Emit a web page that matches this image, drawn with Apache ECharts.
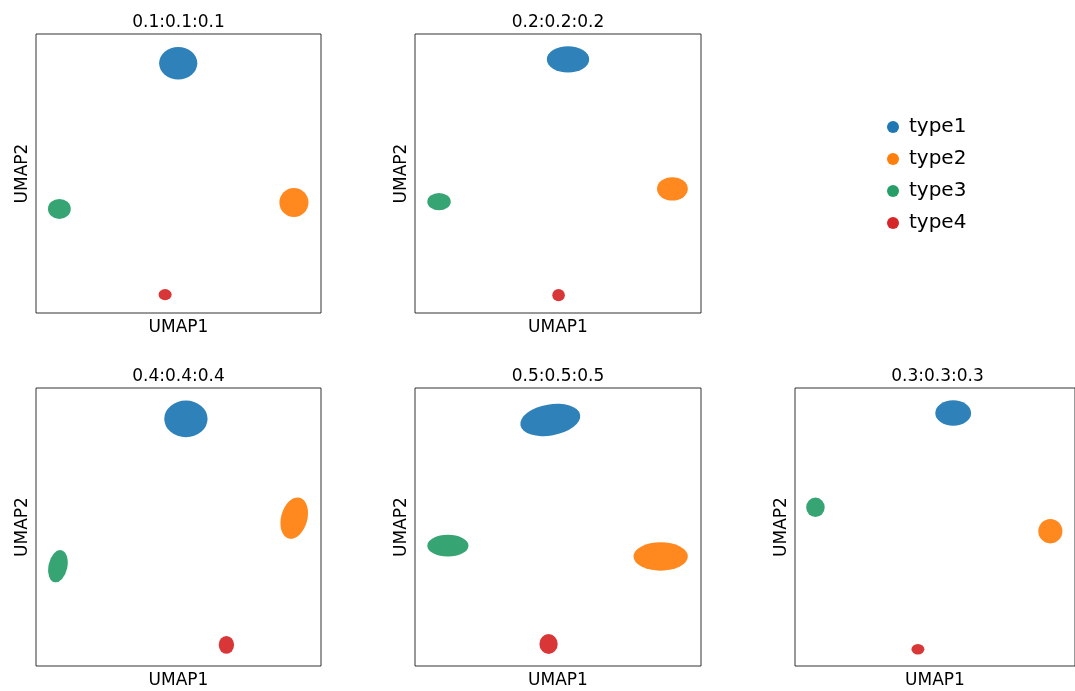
<!DOCTYPE html>
<html>
<head>
<meta charset="utf-8">
<title>UMAP</title>
<script src="https://cdn.jsdelivr.net/npm/echarts@6/dist/echarts.min.js"></script>
<style>
  html, body { margin: 0; padding: 0; background: #fff; }
  #main { width: 1075px; height: 691px; }
</style>
</head>
<body>
<div id="main"></div>
<script>
// panel titles, in drawing order (row 1: two panels, row 2: three panels)
var panelTitles = ['0.1:0.1:0.1', '0.2:0.2:0.2', '0.4:0.4:0.4', '0.5:0.5:0.5', '0.3:0.3:0.3'];
var typeNames = ['type1', 'type2', 'type3', 'type4'];

// one cluster per panel: [umap1 centre, umap2 centre, spread1, spread2, tilt deg]
var type1 = [[49.9, 89.5, 6.7, 5.8, 0], [53.5, 90.9, 7.4, 4.7, 0], [52.6, 88.9, 7.6, 6.6, 0], [47.3, 88.5, 10.6, 5.6, 10], [56.5, 91.0, 6.4, 4.6, 0]];
var type2 = [[90.5, 39.6, 5.1, 5.2, 0], [90.0, 44.5, 5.4, 4.2, 0], [90.6, 53.2, 4.6, 7.6, -15], [85.9, 39.4, 9.5, 5.1, 0], [91.2, 48.5, 4.3, 4.4, 0]];
var type3 = [[8.2, 37.3, 4.0, 3.6, 0], [8.4, 39.9, 4.1, 3.1, 0], [7.7, 35.9, 3.3, 5.9, -12], [11.5, 43.3, 7.2, 3.9, 0], [7.3, 57.1, 3.3, 3.5, 0]];
var type4 = [[45.3, 6.6, 2.3, 2.0, 0], [50.2, 6.4, 2.2, 2.2, 0], [66.8, 7.6, 2.7, 3.2, 0], [46.7, 7.9, 3.2, 3.6, 0], [43.9, 6.0, 2.3, 1.9, 0]];

var typeData = [type1, type2, type3, type4];
var colors = ['#1f77b4', '#ff7f0e', '#279e68', '#d62728'];

var font = '"DejaVu Sans", sans-serif';

// grid boxes in px
var grids = [
    {left: 36, top: 34, width: 285, height: 279},
    {left: 415, top: 34, width: 286, height: 279},
    {left: 36, top: 388, width: 285, height: 278},
    {left: 415, top: 388, width: 286, height: 278},
    {left: 795, top: 388, width: 285, height: 278}
];

// draw a cluster as a filled ellipse sized in axis units
function renderCluster(params, api) {
    var c = api.coord([api.value(0), api.value(1)]);
    var s = api.size([api.value(2), api.value(3)], [api.value(0), api.value(1)]);
    return {
        type: 'circle',
        x: c[0],
        y: c[1],
        scaleX: s[0],
        scaleY: s[1],
        rotation: api.value(4) * Math.PI / 180,
        shape: {cx: 0, cy: 0, r: 1},
        style: {fill: api.visual('color'), opacity: 0.93}
    };
}

var myChart = echarts.init(document.getElementById('main'));

var option = {
    animation: false,
    backgroundColor: '#fff',
    color: colors,
    title: [],
    grid: [],
    xAxis: [],
    yAxis: [],
    series: [],
    legend: {
        orient: 'vertical',
        left: 887,
        top: 117,
        padding: 0,
        itemGap: 12,
        itemWidth: 14,
        itemHeight: 12,
        icon: 'circle',
        data: typeNames,
        textStyle: {fontFamily: font, fontSize: 20, color: '#000', padding: [0, 0, 0, 4]}
    }
};

grids.forEach(function (g, i) {
    option.grid.push({
        left: g.left, top: g.top, width: g.width, height: g.height,
        show: true, borderColor: '#333', borderWidth: 1, backgroundColor: 'transparent'
    });
    option.title.push({
        text: panelTitles[i],
        left: g.left + g.width / 2,
        top: g.top - 20,
        padding: 0,
        textAlign: 'center',
        textStyle: {fontFamily: font, fontSize: 17, fontWeight: 'normal', color: '#000'}
    });
    option.xAxis.push({
        gridIndex: i, type: 'value', min: 0, max: 100,
        name: 'UMAP1', nameLocation: 'middle', nameGap: 6,
        nameTextStyle: {fontFamily: font, fontSize: 17, color: '#000', verticalAlign: 'top'},
        axisLine: {show: false}, axisTick: {show: false}, axisLabel: {show: false}, splitLine: {show: false}
    });
    option.yAxis.push({
        gridIndex: i, type: 'value', min: 0, max: 100,
        name: 'UMAP2', nameLocation: 'middle', nameGap: 5,
        nameTextStyle: {fontFamily: font, fontSize: 17, color: '#000', verticalAlign: 'bottom'},
        axisLine: {show: false}, axisTick: {show: false}, axisLabel: {show: false}, splitLine: {show: false}
    });
    typeNames.forEach(function (name, t) {
        option.series.push({
            type: 'custom',
            name: name,
            xAxisIndex: i,
            yAxisIndex: i,
            renderItem: renderCluster,
            itemStyle: {color: colors[t]},
            encode: {x: 0, y: 1},
            data: [typeData[t][i]]
        });
    });
});

myChart.setOption(option);
</script>
</body>
</html>
